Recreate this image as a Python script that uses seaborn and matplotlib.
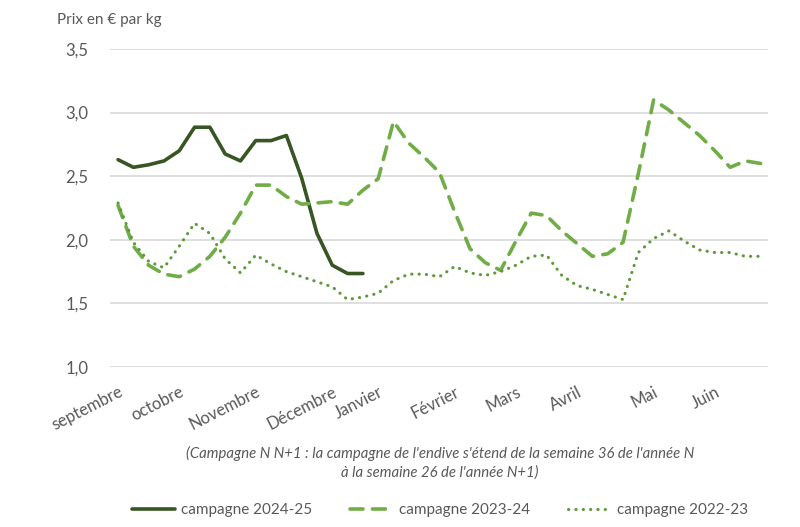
import numpy as np
import pandas as pd
import matplotlib
matplotlib.use("Agg")
import matplotlib.pyplot as plt
import seaborn as sns

# ------ DATA ------ #
# semaines 36 -> 52 puis 1 -> 26 (index 0..42)
prix_2024_25 = [2.63, 2.57, 2.59, 2.62, 2.70, 2.885, 2.885, 2.675, 2.62, 2.78,
                2.78, 2.82, 2.485, 2.05, 1.80, 1.735, 1.735]

prix_2023_24 = [2.27, 1.95, 1.80, 1.73, 1.71, 1.77, 1.87, 2.02, 2.21, 2.43,
                2.43, 2.34, 2.28, 2.29, 2.30, 2.28, 2.39, 2.48, 2.93, 2.76,
                2.65, 2.53, 2.22, 1.93, 1.82, 1.76, 1.99, 2.21, 2.19, 2.07,
                1.97, 1.87, 1.89, 1.98, 2.52, 3.10, 3.02, 2.92, 2.82, 2.70,
                2.57, 2.62, 2.60]

prix_2022_23 = [2.29, 1.98, 1.83, 1.78, 1.95, 2.13, 2.05, 1.85, 1.74, 1.88,
                1.81, 1.75, 1.71, 1.67, 1.63, 1.53, 1.55, 1.58, 1.68, 1.73,
                1.73, 1.71, 1.79, 1.74, 1.72, 1.75, 1.80, 1.87, 1.88, 1.72,
                1.64, 1.61, 1.57, 1.53, 1.90, 2.01, 2.07, 1.99, 1.92, 1.90,
                1.90, 1.87, 1.87]

mois = ["septembre", "octobre", "Novembre", "Décembre", "Janvier", "Février",
        "Mars", "Avril", "Mai", "Juin"]
mois_pos = [0, 4, 9, 14, 17, 22, 26, 30, 35, 39]

y_ticks = [1.0, 1.5, 2.0, 2.5, 3.0, 3.5]

# ------ STYLE ------ #
sns.set_theme(style="white")
plt.rcParams['font.family'] = ['Lato', 'DejaVu Sans']

gris = "#595959"
c_fonce = "#375623"
c_clair = "#70AD47"
c_moyen = "#5E9A3A"

fig = plt.figure(figsize=(8, 5.27), dpi=100)
ax = fig.add_axes([0.138, 0.3036, 0.8225, 0.6034])

sns.lineplot(x=np.arange(len(prix_2024_25)), y=prix_2024_25, ax=ax,
             color=c_fonce, lw=2.6, label="campagne 2024-25")
sns.lineplot(x=np.arange(len(prix_2023_24)), y=prix_2023_24, ax=ax,
             color=c_clair, lw=2.6, label="campagne 2023-24")
sns.lineplot(x=np.arange(len(prix_2022_23)), y=prix_2022_23, ax=ax,
             color=c_moyen, lw=2.2, label="campagne 2022-23")
ax.lines[1].set_dashes([3.6, 2.6])
ax.lines[1].set_dash_capstyle("round")
ax.lines[2].set_dashes([0.1, 2.3])
ax.lines[2].set_dash_capstyle("round")

ax.set_xlim(-0.5, 42.5)
ax.set_ylim(1.0, 3.5)
ax.set_yticks(y_ticks)
ax.set_yticklabels([f"{v:.1f}".replace(".", ",") for v in y_ticks],
                   color=gris, fontsize=12)
ax.yaxis.grid(True, color="#d9d9d9", lw=1.2)
ax.set_axisbelow(True)
ax.tick_params(axis="y", length=0, pad=16)

ax.set_xticks(mois_pos)
ax.set_xticklabels(mois, rotation=27, ha="right", rotation_mode="anchor",
                   color=gris, fontsize=12)
ax.tick_params(axis="x", length=0, pad=12)
ax.set_xlabel("")
ax.set_ylabel("")
sns.despine(ax=ax, left=True, bottom=True)

fig.text(0.071, 0.962, "Prix en € par kg", color=gris, fontsize=11,
         va="center")

fig.text(0.55, 0.140, "(Campagne N N+1 : la campagne de l'endive s'étend de la semaine 36 de l'année N",
         ha="center", va="center", style="italic", color=gris, fontsize=10.7)
fig.text(0.55, 0.104, "à la semaine 26 de l'année N+1)",
         ha="center", va="center", style="italic", color=gris, fontsize=10.7)

ax.get_legend().remove()
handles, labels = ax.get_legend_handles_labels()
leg = fig.legend(handles, labels, loc="center", bbox_to_anchor=(0.55, 0.032),
                 ncol=3, frameon=False, fontsize=11, handlelength=2.8,
                 columnspacing=2.5, handletextpad=0.4)
for t in leg.get_texts():
    t.set_color(gris)

fig.savefig("out.png", dpi=100)
